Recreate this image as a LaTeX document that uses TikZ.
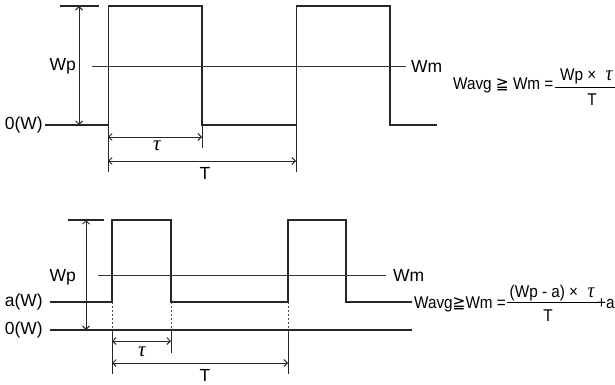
\documentclass[tikz,border=0pt]{standalone}
\usepackage{fontspec}
\setmainfont{Liberation Sans}
\newfontfamily\symfont{DejaVu Sans}
\newfontfamily\taufont{Liberation Serif}
\newcommand{\tauit}{{\taufont\itshape τ}}
\newcommand{\tauf}{{\taufont\itshape\fontsize{21}{21}\selectfont τ}}
\usetikzlibrary{arrows.meta}
\begin{document}
\begin{tikzpicture}[x=1pt,y=-1pt,
  sig/.style={line width=1.05pt, draw=black!85},
  ref/.style={line width=0.9pt, draw=black!80},
  ext/.style={line width=0.95pt, draw=black!85},
  dim/.style={line width=0.9pt, draw=black!85, {Straight Barb[length=3.5pt,width=7pt]}-{Straight Barb[length=3.5pt,width=7pt]}},
  lbl/.style={font=\fontsize{17.5}{17.5}\selectfont, inner sep=0pt},
  taul/.style={font=\fontsize{21}{21}\selectfont, inner sep=0pt},
  frm/.style={font=\fontsize{17}{17}\selectfont, inner sep=0pt, xscale=0.9},
  dotl/.style={line width=0.9pt, draw=black!70, dash pattern=on 2pt off 2pt}]
\clip (0,0) rectangle (615,385);
% ---------------- top diagram ----------------
\coordinate (tk1) at (60,6);  \coordinate (tk2) at (99,6);
\coordinate (b0) at (45,125);
\coordinate (p1l) at (108,125); \coordinate (p1lt) at (108,6);
\coordinate (p1r) at (202,125); \coordinate (p1rt) at (202,6);
\coordinate (p2l) at (296,125); \coordinate (p2lt) at (296,6);
\coordinate (p2r) at (390,125); \coordinate (p2rt) at (390,6);
\coordinate (bend) at (437,125);
\draw[sig] (tk1) -- (tk2);
\draw[sig] (b0) -- (p1l);
\draw[sig] (p1lt) -- (p1rt) -- (p1r) -- (p2l);
\draw[sig] (p2lt) -- (p2rt) -- (p2r) -- (bend);
% extension lines
\coordinate (e1) at (108,172); \coordinate (e2) at (202,148); \coordinate (e3) at (296,172);
\draw[ext] (p1lt) -- (e1);
\draw[ext] (p1r) -- (e2);
\draw[ext] (p2lt) -- (e3);
% Wm line
\coordinate (wm1) at (92,66); \coordinate (wm2) at (406,66);
\draw[ref] (wm1) -- (wm2);
% Wp dimension
\coordinate (wpa) at (79,6); \coordinate (wpb) at (79,125);
\draw[dim] (wpa) -- (wpb);
% tau and T
\coordinate (ta1) at (108,137); \coordinate (ta2) at (202,137);
\draw[dim] (ta1) -- (ta2);
\coordinate (T1) at (108,161); \coordinate (T2) at (296,161);
\draw[dim] (T1) -- (T2);
% labels
\node[lbl, anchor=east] (lwp) at (76,66) {Wp};
\node[lbl, anchor=east] (l0) at (43,125) {0(W)};
\node[lbl, anchor=west] (lwm) at (411,66) {Wm};
\node[taul] (ltau) at (157,146) {\tauit};
\node[lbl] (lT) at (205,173) {T};
% formula
\node[frm, anchor=base west] (f1) at (453,90) {Wavg {\symfont ≧} Wm =};
\coordinate (fb1) at (555,87); \coordinate (fb2) at (625,87);
\draw[line width=0.8pt] (fb1) -- (fb2);
\node[frm, anchor=base west] (n1) at (560,81) {Wp ×\,\, \tauf};
\node[frm] (d1) at (592,100) {T};
% ---------------- bottom diagram ----------------
\coordinate (tk3) at (68,220); \coordinate (tk4) at (104,220);
\draw[sig] (tk3) -- (tk4);
\coordinate (a0) at (50,302);
\coordinate (q1l) at (112,302); \coordinate (q1lt) at (112,220);
\coordinate (q1r) at (171,302); \coordinate (q1rt) at (171,220);
\coordinate (q2l) at (288,302); \coordinate (q2lt) at (288,220);
\coordinate (q2r) at (346,302); \coordinate (q2rt) at (346,220);
\coordinate (aend) at (412,302);
\draw[sig] (a0) -- (q1l) -- (q1lt) -- (q1rt) -- (q1r) -- (q2l) -- (q2lt) -- (q2rt) -- (q2r) -- (aend);
\coordinate (z0) at (50,330); \coordinate (zend) at (412,330);
\draw[sig] (z0) -- (zend);
% dotted and extension
\coordinate (z1) at (112,330); \coordinate (z2) at (171,330); \coordinate (z3) at (288,330);
\draw[dotl] (q1l) -- (z1);
\draw[dotl] (q1r) -- (z2);
\draw[dotl] (q2l) -- (z3);
\coordinate (f1e) at (112,374); \coordinate (f2e) at (171,353); \coordinate (f3e) at (288,374);
\draw[ext] (z1) -- (f1e);
\draw[ext] (z2) -- (f2e);
\draw[ext] (z3) -- (f3e);
% Wm line
\coordinate (wm3) at (98,275); \coordinate (wm4) at (386,275);
\draw[ref] (wm3) -- (wm4);
% Wp dimension
\coordinate (wpc) at (86,220); \coordinate (wpd) at (86,330);
\draw[dim] (wpc) -- (wpd);
% tau and T
\coordinate (tb1) at (112,341); \coordinate (tb2) at (171,341);
\draw[dim] (tb1) -- (tb2);
\coordinate (T3) at (112,363); \coordinate (T4) at (288,363);
\draw[dim] (T3) -- (T4);
% labels
\node[lbl, anchor=east] (lwp2) at (76,277) {Wp};
\node[lbl, anchor=east] (la) at (43,302) {a(W)};
\node[lbl, anchor=east] (l02) at (43,330) {0(W)};
\node[lbl, anchor=west] (lwm2) at (393,275) {Wm};
\node[taul] (ltau2) at (142,352) {\tauit};
\node[lbl] (lT2) at (205,375) {T};
% formula
\node[frm, anchor=base west] (f2) at (414,308) {Wavg{\symfont ≧}Wm =};
\coordinate (fb3) at (507,302); \coordinate (fb4) at (598,302);
\draw[line width=0.8pt] (fb3) -- (fb4);
\node[frm, anchor=base] (n2) at (552,297) {(Wp - a) ×\,\, \tauf};
\node[frm] (d2) at (548,316) {T};
\node[frm, anchor=base west] (pa) at (597,308) {+a};
\end{tikzpicture}
\end{document}
